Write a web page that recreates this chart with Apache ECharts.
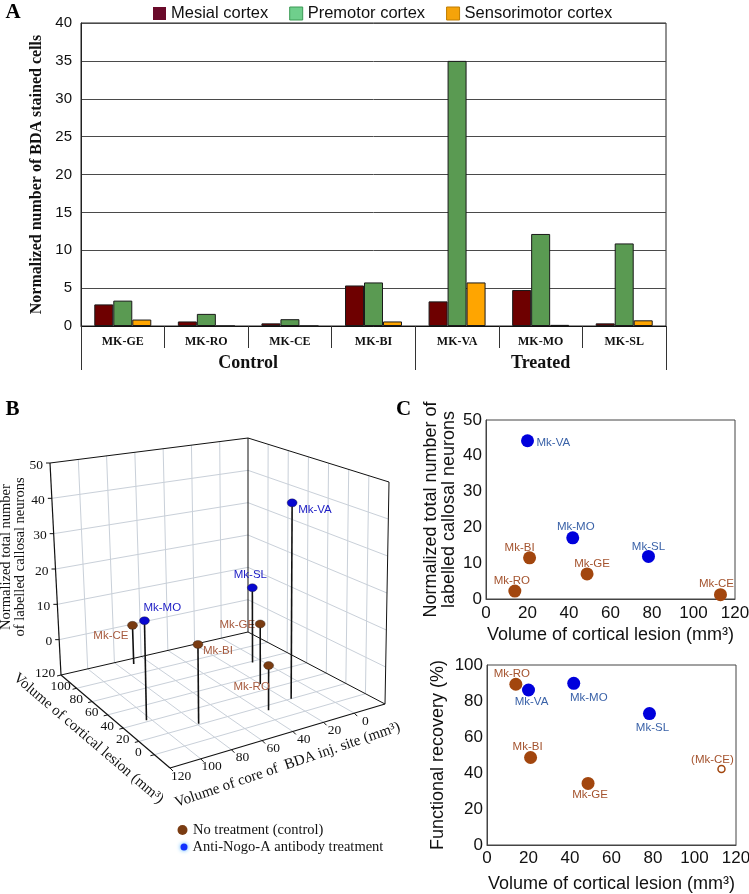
<!DOCTYPE html>
<html>
<head>
<meta charset="utf-8">
<script src="https://cdn.jsdelivr.net/npm/echarts@6.0.0/dist/echarts.min.js"></script>
<style>
  html, body { margin: 0; padding: 0; background: #fff; }
  #chart { width: 749px; height: 894px; }
</style>
</head>
<body>
<div id="chart"></div>
<script>
// ---------- A: BDA stained cells per monkey ----------
var monkeys = ['MK-GE', 'MK-RO', 'MK-CE', 'MK-BI', 'MK-VA', 'MK-MO', 'MK-SL'];
var groupNames = ['Control', 'Treated'];
var groupSizes = [4, 3];
var mesial = [2.85, 0.6, 0.35, 5.35, 3.25, 4.75, 0.35];
var premotor = [3.35, 1.6, 0.9, 5.75, 35.0, 12.15, 10.9];
var sensorimotor = [0.85, 0, 0, 0.6, 5.75, 0.15, 0.75];

// ---------- B / C: per animal ----------
var ctrlNames = ['Mk-GE', 'Mk-RO', 'Mk-CE', 'Mk-BI'];
var ctrlLesion = [48.7, 13.9, 113, 21];        // mm3
var ctrlCore = [20, 36, 70, 79];                // mm3, core of BDA inj. site
var ctrlNeurons = [7, 2.2, 1.2, 11.5];
var ctrlRecovery = [34.2, 89.3, 42.2, 48.6];    // %

var treatNames = ['Mk-VA', 'Mk-MO', 'Mk-SL'];
var treatLesion = [20, 41.8, 78.3];
var treatCore = [17, 103, 6];
var treatNeurons = [44.2, 17.1, 11.9];
var treatRecovery = [86.1, 89.8, 73];

var uncertainRecovery = ['Mk-CE'];   // drawn hollow, label in brackets

// 3D axes of panel B
var lesionTicks = [0, 20, 40, 60, 80, 100, 120];
var lesionRange = [-20, 120];
var coreTicks = [0, 20, 40, 60, 80, 100, 120];
var coreRange = [-20, 120];
var countTicks = [0, 10, 20, 30, 40, 50];
var countRange = [-10, 50];

// ---------- styling ----------
var sans = '"Liberation Sans", Arial, sans-serif';
var serif = '"Liberation Serif", "Times New Roman", serif';
function font(size, fam, weight) { return (weight ? weight + ' ' : '') + size + 'px ' + fam; }

var brownDot = '#a2460e', blueDot = '#0000dc';
var brownTxt = '#a4532e', blueTxt = '#3a62a8';
var brownBall = '#7a3c12', blueBall = '#0808d0';
var brownTxtB = '#a65a3e', blueTxtB = '#1c1cc4';
var gridGrey = '#c9d0d9';

// label placement (offset from point centre)
var placeNeurons = {
  'Mk-VA': { dx: 9, dy: 2, align: 'left' },
  'Mk-MO': { dx: 3, dy: -11 },
  'Mk-SL': { dx: 0, dy: -10 },
  'Mk-BI': { dx: -10, dy: -10 },
  'Mk-GE': { dx: 5, dy: -10 },
  'Mk-RO': { dx: -3, dy: -10 },
  'Mk-CE': { dx: -4, dy: -11 }
};
var placeRecovery = {
  'Mk-RO': { dx: -4, dy: -10 },
  'Mk-VA': { dx: 3, dy: 12 },
  'Mk-MO': { dx: 15, dy: 14 },
  'Mk-SL': { dx: 3, dy: 14 },
  'Mk-BI': { dx: -3, dy: -11 },
  'Mk-GE': { dx: 2, dy: 11 },
  'Mk-CE': { dx: -9, dy: -9 }
};
var placeB = {
  'Mk-VA': { dx: 6, dy: 7, align: 'left' },
  'Mk-SL': { dx: -2, dy: -13, align: 'center' },
  'Mk-MO': { dx: -1, dy: -13, align: 'left' },
  'Mk-CE': { dx: -4, dy: 10, align: 'right' },
  'Mk-GE': { dx: -5, dy: 1, align: 'right' },
  'Mk-BI': { dx: 5, dy: 6, align: 'left' },
  'Mk-RO': { dx: -17, dy: 21, align: 'center' }
};

// group separators / centres on the category axis
var groupEdges = [0], groupMids = [];
groupSizes.forEach(function (n, i) {
  groupMids.push(groupEdges[i] + n / 2);
  groupEdges.push(groupEdges[i] + n);
});

// ---------- 3D projection for panel B ----------
// screen corners of the box, floor and top (r: L min/B min, f: L min/B max, l: L max/B max, k: L max/B min)
var boxFloor = { r: [385, 704], f: [170, 768], l: [61, 675], k: [248, 632] };
var boxTop = { r: [389, 482], f: [169, 538], l: [50, 463], k: [248, 438] };

function proj(L, B, Z) {
  var a = (L - lesionRange[0]) / (lesionRange[1] - lesionRange[0]);
  var b = (B - coreRange[0]) / (coreRange[1] - coreRange[0]);
  var c = (Z - countRange[0]) / (countRange[1] - countRange[0]);
  function quad(q, i) {
    return q.r[i] * (1 - a) * (1 - b) + q.f[i] * (1 - a) * b + q.l[i] * a * b + q.k[i] * a * (1 - b);
  }
  var x0 = quad(boxFloor, 0), y0 = quad(boxFloor, 1);
  return [x0 + (quad(boxTop, 0) - x0) * c, y0 + (quad(boxTop, 1) - y0) * c];
}

function renderFrameB() {
  var kids = [];
  var L0 = lesionRange[0], L1 = lesionRange[1];
  var B0 = coreRange[0], B1 = coreRange[1];
  var Z0 = countRange[0], Z1 = countRange[1];
  function seg(p, q, color, w) {
    kids.push({ type: 'line', shape: { x1: p[0], y1: p[1], x2: q[0], y2: q[1] },
      style: { stroke: color, lineWidth: w } });
  }
  function txt(x, y, s, align, size, rot) {
    kids.push({ type: 'text', x: x, y: y, rotation: rot || 0,
      style: { text: String(s), fill: '#111', font: font(size, serif), align: align, verticalAlign: 'middle' } });
  }
  function inner(t, r) { return t > r[0] && t < r[1]; }

  // floor grid
  lesionTicks.filter(function (t) { return inner(t, lesionRange); }).forEach(function (t) {
    seg(proj(t, B0, Z0), proj(t, B1, Z0), gridGrey, 1);
  });
  coreTicks.filter(function (t) { return inner(t, coreRange); }).forEach(function (t) {
    seg(proj(L0, t, Z0), proj(L1, t, Z0), gridGrey, 1);
  });
  // back-left wall (L = max)
  coreTicks.filter(function (t) { return inner(t, coreRange); }).forEach(function (t) {
    seg(proj(L1, t, Z0), proj(L1, t, Z1), gridGrey, 1);
  });
  countTicks.filter(function (t) { return inner(t, countRange); }).forEach(function (t) {
    seg(proj(L1, B0, t), proj(L1, B1, t), gridGrey, 1);
  });
  // back-right wall (B = min)
  lesionTicks.filter(function (t) { return inner(t, lesionRange); }).forEach(function (t) {
    seg(proj(t, B0, Z0), proj(t, B0, Z1), gridGrey, 1);
  });
  countTicks.filter(function (t) { return inner(t, countRange); }).forEach(function (t) {
    seg(proj(L0, B0, t), proj(L1, B0, t), gridGrey, 1);
  });

  // box edges
  var ek = '#111';
  seg(proj(L1, B1, Z0), proj(L1, B1, Z1), ek, 1.2);
  seg(proj(L1, B0, Z0), proj(L1, B0, Z1), ek, 1);
  seg(proj(L0, B0, Z0), proj(L0, B0, Z1), ek, 1);
  seg(proj(L1, B1, Z1), proj(L1, B0, Z1), ek, 1);
  seg(proj(L1, B0, Z1), proj(L0, B0, Z1), ek, 1);
  seg(proj(L1, B1, Z0), proj(L1, B0, Z0), ek, 1);
  seg(proj(L1, B0, Z0), proj(L0, B0, Z0), ek, 1);
  seg(proj(L0, B0, Z0), proj(L0, B1, Z0), ek, 1.2);
  seg(proj(L0, B1, Z0), proj(L1, B1, Z0), ek, 1.2);

  // count axis (vertical, left edge)
  countTicks.forEach(function (t) {
    var p = proj(L1, B1, t);
    seg([p[0] - 4, p[1]], p, ek, 1);
    txt(p[0] - 7, p[1] + 2, t, 'right', 13.5);
  });
  // lesion axis (front-left floor edge)
  lesionTicks.forEach(function (t) {
    var p = proj(t, B1, Z0);
    seg(p, [p[0] - 4, p[1] + 1], ek, 1);
    txt(p[0] - 16, p[1] - 2, t, 'center', 13.5);
  });
  // core axis (front-right floor edge)
  coreTicks.forEach(function (t) {
    var p = proj(L0, t, Z0);
    seg(p, [p[0] + 3, p[1] + 3], ek, 1);
    txt(p[0] + 11, p[1] + 8, t, 'center', 13.5);
  });

  // axis titles
  var zMid = proj(L1, B1, (Z0 + Z1) / 2);
  kids.push({ type: 'text', x: zMid[0] - 42, y: zMid[1] - 12, rotation: Math.PI / 2,
    style: { text: 'Normalized total number\nof labelled callosal neurons', fill: '#111',
      font: font(14.5, serif), align: 'center', verticalAlign: 'middle', lineHeight: 14 } });
  var pa = proj(L1, B1, Z0), pb = proj(L0, B1, Z0);
  var lMid = proj((L0 + L1) / 2, B1, Z0);
  txt(lMid[0] - 27, lMid[1] + 17, 'Volume of cortical lesion (mm\u00b3)', 'center', 15,
    -Math.atan2(pb[1] - pa[1], pb[0] - pa[0]));
  var pc = proj(L0, B0, Z0);
  var cMid = proj(L0, (B0 + B1) / 2, Z0);
  txt(cMid[0] + 10, cMid[1] + 29, 'Volume of core of  BDA inj. site (mm\u00b3)', 'center', 15,
    -Math.atan2(pc[1] - pb[1], pc[0] - pb[0]) + 0.04);

  return { type: 'group', children: kids };
}

function stemRenderer(names, ballColor, textColor) {
  return function (params, api) {
    var L = api.value(0), B = api.value(1), Z = api.value(2);
    var base = proj(L, B, countRange[0]);
    var top = proj(L, B, Z);
    var name = names[params.dataIndex];
    var pl = placeB[name];
    return {
      type: 'group',
      children: [
        { type: 'line', shape: { x1: base[0], y1: base[1], x2: top[0], y2: top[1] },
          style: { stroke: '#111', lineWidth: 1.6 } },
        { type: 'circle', x: top[0], y: top[1], scaleY: 0.8, shape: { cx: 0, cy: 0, r: 5 },
          style: { fill: ballColor, stroke: '#222', lineWidth: 0.4 } },
        { type: 'text', x: top[0] + pl.dx, y: top[1] + pl.dy,
          style: { text: name, fill: textColor, font: font(11.5, sans), align: pl.align, verticalAlign: 'middle' } }
      ]
    };
  };
}

function scatterItems(names, xs, ys, place, txtColor, hollow) {
  return names.map(function (n, i) {
    var p = place[n];
    var odd = hollow && uncertainRecovery.indexOf(n) >= 0;
    var item = {
      value: [xs[i], ys[i]],
      name: n,
      label: {
        show: true, position: 'inside', offset: [p.dx, p.dy],
        formatter: odd ? '(' + n + ')' : n,
        align: p.align || 'center', verticalAlign: 'middle',
        color: txtColor, fontFamily: sans, fontSize: 11.5
      }
    };
    if (odd) {
      item.symbolSize = 7;
      item.itemStyle = { color: '#fff', borderColor: brownDot, borderWidth: 1.5, opacity: 1 };
    }
    return item;
  });
}

var barBorder = { borderColor: '#1a1a1a', borderWidth: 1 };
var cAxisLine = { show: true, lineStyle: { color: '#444', width: 1 } };
var cLabel = { fontFamily: sans, fontSize: 17, color: '#111' };
var cName = { fontFamily: sans, fontSize: 18, color: '#111', lineHeight: 18 };

var chart = echarts.init(document.getElementById('chart'), null, { renderer: 'canvas' });

chart.setOption({
  animation: false,
  backgroundColor: '#fff',
  graphic: [
    { type: 'text', x: 13, y: 13, style: { text: 'A', font: font(21, serif, 'bold'), fill: '#000', align: 'center', verticalAlign: 'middle' } },
    { type: 'text', x: 12.5, y: 410, style: { text: 'B', font: font(21, serif, 'bold'), fill: '#000', align: 'center', verticalAlign: 'middle' } },
    { type: 'text', x: 403.5, y: 410, style: { text: 'C', font: font(21, serif, 'bold'), fill: '#000', align: 'center', verticalAlign: 'middle' } }
  ],
  legend: [
    {
      left: 148, top: 0, itemWidth: 13, itemHeight: 13, itemGap: 21, icon: 'rect',
      textStyle: { fontFamily: sans, fontSize: 16.5, color: '#111' },
      data: [
        { name: 'Mesial cortex', itemStyle: { color: '#6a0a2a', borderWidth: 0 } },
        { name: 'Premotor cortex', itemStyle: { color: '#6fcf8c', borderColor: '#3c9a55', borderWidth: 1 } },
        { name: 'Sensorimotor cortex', itemStyle: { color: '#f5a30a', borderColor: '#c07d00', borderWidth: 1 } }
      ]
    },
    {
      left: 172.5, top: 817.5, itemWidth: 11, itemHeight: 10,
      textStyle: { fontFamily: serif, fontSize: 14.5, color: '#111' },
      data: [{ name: 'No treatment (control)', icon: 'circle' }]
    },
    {
      left: 175.5, top: 834.5, itemWidth: 7, itemHeight: 7,
      textStyle: { fontFamily: serif, fontSize: 14.5, color: '#111' },
      data: [{ name: 'Anti-Nogo-A antibody treatment', icon: 'circle',
        itemStyle: { shadowBlur: 4, shadowColor: '#4ab0ff' } }]
    }
  ],
  grid: [
    { left: 81, right: 83, top: 23, bottom: 568, show: true, borderColor: '#222', borderWidth: 1, outerBoundsMode: 'none' },
    { left: 486, width: 249, top: 420, height: 179, show: true, borderColor: '#444', borderWidth: 1, outerBoundsMode: 'none' },
    { left: 487, width: 249, top: 665, height: 180, show: true, borderColor: '#444', borderWidth: 1, outerBoundsMode: 'none' }
  ],
  xAxis: [
    {
      type: 'category', gridIndex: 0, data: monkeys, position: 'bottom',
      axisLine: { lineStyle: { color: '#111' } },
      axisTick: { show: true, length: 22, interval: 0, lineStyle: { color: '#333' } },
      axisLabel: { interval: 0, margin: 10, fontFamily: serif, fontWeight: 'bold', fontSize: 12, color: '#111' }
    },
    {
      type: 'value', gridIndex: 0, min: 0, max: monkeys.length, position: 'bottom',
      axisLine: { show: false }, splitLine: { show: false },
      axisTick: { show: true, customValues: groupEdges, length: 44, lineStyle: { color: '#333' } },
      axisLabel: {
        customValues: groupMids, margin: 28,
        formatter: function (v) { return groupNames[groupMids.indexOf(v)]; },
        fontFamily: serif, fontWeight: 'bold', fontSize: 18, color: '#111'
      }
    },
    {
      type: 'value', gridIndex: 1, min: 0, max: 120, interval: 20,
      axisLine: cAxisLine, axisTick: { show: false }, splitLine: { show: false },
      axisLabel: Object.assign({ margin: 6 }, cLabel),
      name: 'Volume of cortical lesion (mm\u00b3)', nameLocation: 'middle', nameGap: 27, nameTextStyle: cName
    },
    {
      type: 'value', gridIndex: 2, min: 0, max: 120, interval: 20,
      axisLine: cAxisLine, axisTick: { show: false }, splitLine: { show: false },
      axisLabel: Object.assign({ margin: 5 }, cLabel),
      name: 'Volume of cortical lesion (mm\u00b3)', nameLocation: 'middle', nameGap: 30, nameTextStyle: cName
    }
  ],
  yAxis: [
    {
      type: 'value', gridIndex: 0, min: 0, max: 40, interval: 5,
      axisLine: { show: true, lineStyle: { color: '#222' } }, axisTick: { show: false },
      axisLabel: { fontFamily: sans, fontSize: 15, color: '#111', margin: 9 },
      splitLine: { lineStyle: { color: '#4a4a4a', width: 1 } },
      name: 'Normalized number of BDA stained cells', nameLocation: 'middle', nameGap: 36,
      nameTextStyle: { fontFamily: serif, fontWeight: 'bold', fontSize: 16, color: '#111' }
    },
    {
      type: 'value', gridIndex: 1, min: 0, max: 50, interval: 10,
      axisLine: cAxisLine, axisTick: { show: false }, splitLine: { show: false },
      axisLabel: Object.assign({ margin: 4 }, cLabel),
      name: 'Normalized total number of\nlabelled callosal neurons', nameLocation: 'middle', nameGap: 28, nameTextStyle: cName
    },
    {
      type: 'value', gridIndex: 2, min: 0, max: 100, interval: 20,
      axisLine: cAxisLine, axisTick: { show: false }, splitLine: { show: false },
      axisLabel: Object.assign({ margin: 4 }, cLabel),
      name: 'Functional recovery (%)', nameLocation: 'middle', nameGap: 40, nameTextStyle: cName
    }
  ],
  series: [
    { type: 'bar', name: 'Mesial cortex', xAxisIndex: 0, yAxisIndex: 0, data: mesial,
      barWidth: 19, barGap: '0%', itemStyle: Object.assign({ color: '#6e0000' }, barBorder) },
    { type: 'bar', name: 'Premotor cortex', xAxisIndex: 0, yAxisIndex: 0, data: premotor,
      barWidth: 19, barGap: '0%', itemStyle: Object.assign({ color: '#5a9a52' }, barBorder) },
    { type: 'bar', name: 'Sensorimotor cortex', xAxisIndex: 0, yAxisIndex: 0, data: sensorimotor,
      barWidth: 19, barGap: '0%', itemStyle: Object.assign({ color: '#ffa500' }, barBorder) },

    { type: 'custom', name: 'frameB', coordinateSystem: 'none', silent: true, z: 1,
      data: [[0]], renderItem: renderFrameB },
    { type: 'custom', name: 'No treatment (control)', coordinateSystem: 'none', z: 3,
      itemStyle: { color: brownBall },
      data: ctrlNames.map(function (n, i) { return [ctrlLesion[i], ctrlCore[i], ctrlNeurons[i]]; }),
      renderItem: stemRenderer(ctrlNames, brownBall, brownTxtB) },
    { type: 'custom', name: 'Anti-Nogo-A antibody treatment', coordinateSystem: 'none', z: 3,
      itemStyle: { color: '#1030ff' },
      data: treatNames.map(function (n, i) { return [treatLesion[i], treatCore[i], treatNeurons[i]]; }),
      renderItem: stemRenderer(treatNames, blueBall, blueTxtB) },

    { type: 'scatter', name: 'c-neurons-ctrl', xAxisIndex: 2, yAxisIndex: 1, symbolSize: 13,
      itemStyle: { color: brownDot, opacity: 1 },
      data: scatterItems(ctrlNames, ctrlLesion, ctrlNeurons, placeNeurons, brownTxt, false) },
    { type: 'scatter', name: 'c-neurons-treat', xAxisIndex: 2, yAxisIndex: 1, symbolSize: 13,
      itemStyle: { color: blueDot, opacity: 1 },
      data: scatterItems(treatNames, treatLesion, treatNeurons, placeNeurons, blueTxt, false) },
    { type: 'scatter', name: 'c-recovery-ctrl', xAxisIndex: 3, yAxisIndex: 2, symbolSize: 13,
      itemStyle: { color: brownDot, opacity: 1 },
      data: scatterItems(ctrlNames, ctrlLesion, ctrlRecovery, placeRecovery, brownTxt, true) },
    { type: 'scatter', name: 'c-recovery-treat', xAxisIndex: 3, yAxisIndex: 2, symbolSize: 13,
      itemStyle: { color: blueDot, opacity: 1 },
      data: scatterItems(treatNames, treatLesion, treatRecovery, placeRecovery, blueTxt, true) }
  ]
});
</script>
</body>
</html>
